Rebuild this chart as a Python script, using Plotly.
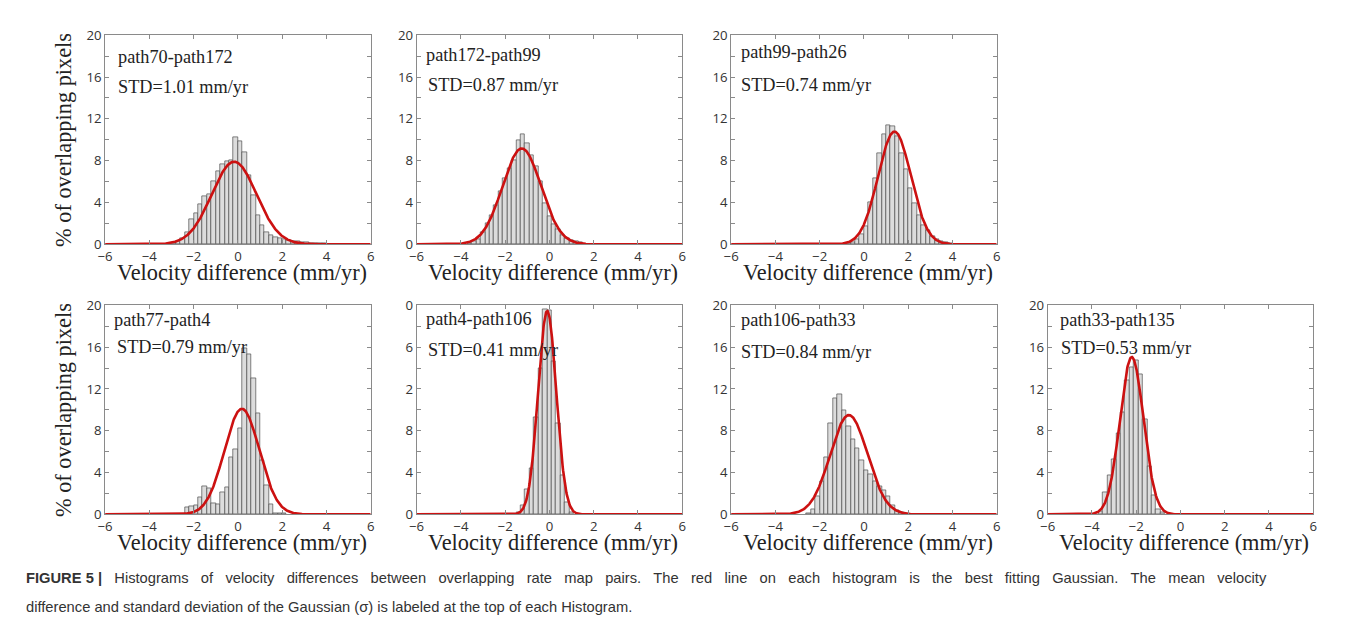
import numpy as np
import plotly.graph_objects as go

# ---------------- data ----------------
pair_labels = ["path70-path172", "path172-path99", "path99-path26",
               "path77-path4", "path4-path106", "path106-path33", "path33-path135"]
std_values = [1.01, 0.87, 0.74, 0.79, 0.41, 0.84, 0.53]
fit_means = [-0.17, -1.25, 1.38, 0.18, -0.10, -0.68, -2.20]
bin_width = 0.2
first_bin_centers = [-2.9, -3.6, -0.7, -2.3, -1.4, -2.5, -3.6]

hist_p1 = [0.1, 0.25, 0.6, 1.2, 2.4, 3.0, 3.8, 4.6, 4.8, 6.0, 7.0, 7.7, 7.9, 8.0,
           10.2, 9.9, 8.8, 6.6, 4.7, 2.8, 1.8, 1.2, 0.9, 0.7, 0.6, 0.5, 0.4, 0.3,
           0.25, 0.2, 0.15, 0.12, 0.1, 0.08, 0.06, 0.05]
hist_p2 = [0.1, 0.3, 0.5, 1.2, 2.0, 2.8, 3.7, 5.1, 6.3, 7.3, 8.0, 10.0, 10.5, 9.7,
           8.5, 7.5, 6.0, 3.9, 2.7, 1.9, 1.4, 0.9, 0.6, 0.4, 0.3, 0.15, 0.05]
hist_p3 = [0.1, 0.2, 0.5, 1.0, 1.7, 4.0, 6.3, 8.7, 10.5, 11.4, 11.3, 10.3, 8.7, 7.2,
           5.4, 3.9, 2.8, 1.8, 1.3, 0.8, 0.45, 0.3, 0.2, 0.1]
hist_p4 = [0.65, 0.8, 0.85, 1.6, 2.7, 2.5, 1.1, 1.0, 2.1, 2.6, 5.5, 6.2, 8.2, 15.9,
           15.3, 13.0, 9.7, 5.2, 2.8, 1.0, 0.1, 0.1, 0.1]
hist_p5 = [0.2, 0.85, 2.4, 4.4, 9.3, 14.0, 19.6, 19.5, 14.6, 8.7, 3.7, 1.2, 0.2]
hist_p6 = [0.1, 0.45, 1.7, 3.2, 5.5, 8.7, 11.1, 11.5, 10.0, 8.4, 7.2, 6.3, 5.2, 4.2,
           3.8, 3.2, 2.7, 2.3, 1.7, 0.9, 0.4, 0.15]
hist_p7 = [0.3, 2.1, 3.7, 5.3, 7.8, 9.8, 12.8, 14.1, 14.7, 13.4, 9.1, 4.6, 1.8, 0.5, 0.2]
hist_values = [hist_p1, hist_p2, hist_p3, hist_p4, hist_p5, hist_p6, hist_p7]

x_tick_vals = [-6, -4, -2, 0, 2, 4, 6]
y_tick_vals = [0, 2, 4, 6, 8, 10, 12, 14, 16, 18, 20]
y_tick_text = ["0", "", "4", "", "8", "", "12", "", "16", "", "20"]
# in the original figure the left digits of panel 5's labels are hidden
y_tick_text_p5 = ["0", "", "4", "", "8", "", "2", "", "6", "", "0"]

x_title = "Velocity difference (mm/yr)"
y_title = "% of overlapping pixels"
caption_bold = "FIGURE 5 |"
caption_line1 = ("Histograms of velocity differences between overlapping rate map pairs. "
                 "The red line on each histogram is the best fitting Gaussian. The mean velocity")
caption_line2 = ("difference and standard deviation of the Gaussian (\u03c3) is labeled at the "
                 "top of each Histogram.")

# ---------------- layout geometry ----------------
PAGE_W, PAGE_H = 1355, 643
BODY = 8                      # default page margin around the plot div
W, H = PAGE_W - 2 * BODY, PAGE_H - 2 * BODY
# empirical correction between page pixels and the photographed picture
SX, OX = 0.9926, 5.8
SY, OY = 0.971, 9.0
FS = 1.015


def px(X):
    return ((X - OX) / SX - BODY) / W


def py(Y):
    return 1 - ((Y - OY) / SY - BODY) / H


col_left = [103, 415, 730, 1047]
panel_w = 266
row_top = [35, 305]
panel_h = 209
panel_pos = [(0, 0), (1, 0), (2, 0), (0, 1), (1, 1), (2, 1), (3, 1)]
label_dx = [11, 7, 8, 7, 7, 8, 10]
label_dy = [22, 20, 17, 15, 14, 15, 15]
std_dx = [11, 9, 8, 10, 9, 8, 11]
std_dy = [52, 50, 50, 42, 45, 47, 43]

serif = "Liberation Serif, Times New Roman, serif"
sans = "Open Sans, Lato, sans-serif"
cap_font = "Liberation Sans, Arial, sans-serif"
frame_col = "#8a8a8a"

fig = go.Figure()
annotations = []

for i in range(7):
    c, r = panel_pos[i]
    ax = "" if i == 0 else str(i + 1)
    xa, ya = "x" + ax, "y" + ax
    centers = first_bin_centers[i] + bin_width * np.arange(len(hist_values[i]))
    fig.add_trace(go.Bar(x=centers, y=hist_values[i], width=bin_width,
                         marker=dict(color="#dcdcdc", line=dict(color="#4d4d4d", width=0.7)),
                         xaxis=xa, yaxis=ya, showlegend=False, hoverinfo="skip"))
    xs = np.linspace(-6, 6, 721)
    peak = 100 * bin_width / (std_values[i] * np.sqrt(2 * np.pi))
    ys = peak * np.exp(-0.5 * ((xs - fit_means[i]) / std_values[i]) ** 2)
    fig.add_trace(go.Scatter(x=xs, y=ys, mode="lines",
                             line=dict(color="#cc1111", width=2.6),
                             xaxis=xa, yaxis=ya, showlegend=False, cliponaxis=False,
                             hoverinfo="skip"))

    x0 = col_left[c]
    y0 = row_top[r]
    common = dict(showline=True, linecolor=frame_col, linewidth=1, mirror="ticks",
                  ticks="inside", ticklen=4, tickcolor=frame_col, zeroline=False,
                  showgrid=False, tickfont=dict(family=sans, size=13 * FS, color="#333"),
                  fixedrange=True)
    fig.layout["xaxis" + ax] = dict(domain=[px(x0), px(x0 + panel_w)], range=[-6, 6],
                                    anchor=ya, tickvals=x_tick_vals, **common)
    fig.layout["yaxis" + ax] = dict(domain=[py(y0 + panel_h), py(y0)], range=[0, 20],
                                    anchor=xa, tickvals=y_tick_vals,
                                    ticktext=y_tick_text_p5 if i == 4 else y_tick_text,
                                    **common)

    annotations.append(dict(x=px(x0 + label_dx[i]), y=py(y0 + label_dy[i]),
                            xref="paper", yref="paper", text=pair_labels[i],
                            showarrow=False, xanchor="left", yanchor="middle",
                            font=dict(family=serif, size=18 * FS, color="#222")))
    annotations.append(dict(x=px(x0 + std_dx[i]), y=py(y0 + std_dy[i]),
                            xref="paper", yref="paper",
                            text="STD=%.2f mm/yr" % std_values[i],
                            showarrow=False, xanchor="left", yanchor="middle",
                            font=dict(family=serif, size=18 * FS, color="#222")))
    annotations.append(dict(x=px(x0 + panel_w / 2 + 4), y=py(y0 + panel_h + 28),
                            xref="paper", yref="paper", text=x_title, showarrow=False,
                            xanchor="center", yanchor="middle",
                            font=dict(family=serif, size=22 * FS, color="#222")))
    if c == 0:
        annotations.append(dict(x=px(62), y=py(y0 + panel_h / 2),
                                xref="paper", yref="paper", text=y_title,
                                showarrow=False, textangle=-90,
                                xanchor="center", yanchor="middle",
                                font=dict(family=serif, size=22 * FS, color="#222")))

# caption line 1 is justified in the original: widen the word gaps
wide_gap = "\u2002\u2005\u200a"
line1_text = "<b>" + caption_bold + "</b>" + wide_gap + caption_line1.replace(" ", wide_gap)
annotations.append(dict(x=px(22), y=py(578), xref="paper", yref="paper",
                        text=line1_text,
                        showarrow=False, xanchor="left", yanchor="middle",
                        font=dict(family=cap_font, size=14.5 * FS, color="#333")))
annotations.append(dict(x=px(22), y=py(607), xref="paper", yref="paper",
                        text=caption_line2,
                        showarrow=False, xanchor="left", yanchor="middle",
                        font=dict(family=cap_font, size=14.5 * FS, color="#333")))

fig.update_layout(width=W, height=H, margin=dict(l=0, r=0, t=0, b=0),
                  paper_bgcolor="white", plot_bgcolor="white", bargap=0,
                  annotations=annotations, hovermode=False)

fig.write_html("out.html", config={"displayModeBar": False})
